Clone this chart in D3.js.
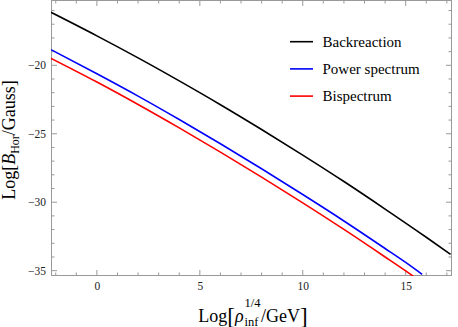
<!DOCTYPE html>
<html><head><meta charset="utf-8">
<script src="https://cdn.jsdelivr.net/npm/d3@7"></script>
<style>body{margin:0;background:#fff}svg{display:block}</style>
</head><body>
<svg id="c" width="458" height="327"></svg>
<script>
const seriesNames = ["Backreaction", "Power spectrum", "Bispectrum"];
const seriesColors = ["#000000", "#0000ff", "#ff0000"];
const backX = [-2.23, 0, 2, 4, 6, 8, 10, 12, 14, 16, 17.18];
const backY = [-16.13, -17.85, -19.46, -21.14, -22.88, -24.69, -26.56, -28.49, -30.50, -32.56, -33.81];
const powX = [-2.23, 0, 2, 4, 6, 8, 10, 12, 14, 15, 15.8];
const powY = [-18.86, -20.62, -22.25, -23.96, -25.73, -27.56, -29.44, -31.37, -33.38, -34.40, -35.27];
const bisX = [-2.23, 0, 2, 4, 6, 8, 10, 12, 14, 15, 15.6];
const bisY = [-19.49, -21.22, -22.86, -24.57, -26.34, -28.17, -30.05, -31.99, -34.0, -35.02, -35.65];
const xTicks = [0, 5, 10, 15];
const yTicks = [-20, -25, -30, -35];

const svg = d3.select("#c");
const L = 51, R = 452, T = 0, B = 276;
const x = d3.scaleLinear().domain([-2.23, 17.25]).range([L, R]);
const y = d3.scaleLinear().domain([-35.39, -15.23]).range([B, T]);
const frameCol = "#999999";
const fmt = d => (d < 0 ? "\u2212" + Math.abs(d) : "" + d);
const serif = "Liberation Serif, serif";

svg.append("defs").append("clipPath").attr("id", "clip")
  .append("rect").attr("x", L).attr("y", T).attr("width", R - L).attr("height", B - T);

// ticks (mirrored on all four sides)
const xMinor = d3.range(-2, 18, 1);
const yMinor = d3.range(-35, -15, 1);
const g = svg.append("g").attr("stroke", frameCol).attr("stroke-width", 1);
xMinor.forEach(v => {
  const len = xTicks.includes(v) ? 6 : 3.5;
  g.append("line").attr("x1", x(v)).attr("x2", x(v)).attr("y1", B).attr("y2", B - len);
  g.append("line").attr("x1", x(v)).attr("x2", x(v)).attr("y1", T).attr("y2", T + len);
});
yMinor.forEach(v => {
  const len = yTicks.includes(v) ? 6 : 3.5;
  g.append("line").attr("y1", y(v)).attr("y2", y(v)).attr("x1", L).attr("x2", L + len);
  g.append("line").attr("y1", y(v)).attr("y2", y(v)).attr("x1", R).attr("x2", R - len);
});
svg.append("rect").attr("x", L + 0.5).attr("y", T + 0.5).attr("width", R - L - 1).attr("height", B - T - 1)
  .attr("fill", "none").attr("stroke", frameCol).attr("stroke-width", 1);

// tick labels via axes
const xAxis = svg.append("g").attr("transform", `translate(0,${B})`)
  .call(d3.axisBottom(x).tickValues(xTicks).tickFormat(fmt).tickSize(0).tickPadding(6));
const yAxis = svg.append("g").attr("transform", `translate(${L},0)`)
  .call(d3.axisLeft(y).tickValues(yTicks).tickFormat(fmt).tickSize(0).tickPadding(5));
[xAxis, yAxis].forEach(a => {
  a.select(".domain").remove();
  a.selectAll("text").attr("font-family", serif).attr("font-size", 11.5).attr("fill", "#222");
});

// curves
const line = d3.line().x(d => x(d[0])).y(d => y(d[1])).curve(d3.curveMonotoneX);
const data = [d3.zip(backX, backY), d3.zip(powX, powY), d3.zip(bisX, bisY)];
svg.append("g").attr("clip-path", "url(#clip)").selectAll("path").data(data).join("path")
  .attr("d", line).attr("fill", "none")
  .attr("stroke", (d, i) => seriesColors[i]).attr("stroke-width", 1.6);

// legend
const lg = svg.append("g");
seriesNames.forEach((n, i) => {
  const yy = 41.7 + i * 27.2;
  lg.append("line").attr("x1", 290).attr("x2", 313).attr("y1", yy).attr("y2", yy)
    .attr("stroke", seriesColors[i]).attr("stroke-width", 1.6);
  lg.append("text").attr("x", 322.5).attr("y", yy + 5).text(n)
    .attr("font-family", serif).attr("font-size", 15).attr("fill", "#000");
});

// y label
const yl = svg.append("text").attr("transform", "translate(15,140) rotate(-90)")
  .attr("text-anchor", "middle").attr("font-family", serif).attr("font-size", 18).attr("fill", "#000");
yl.append("tspan").text("Log[");
yl.append("tspan").text("B").attr("font-style", "italic");
yl.append("tspan").text("Hor").attr("font-size", 12).attr("dy", 4);
yl.append("tspan").text("/Gauss]").attr("dy", -4);

// x label: pieces placed side by side
const base = 322;
const xg = svg.append("g").attr("font-family", serif).attr("fill", "#000");
const t1 = xg.append("text").attr("y", base).attr("font-size", 18);
t1.append("tspan").text("Log");
t1.append("tspan").text("[").attr("font-size", 23).attr("dy", 1.5);
t1.append("tspan").text("\u03C1").attr("font-style", "italic").attr("dy", -1.5);
const w1 = t1.node().getComputedTextLength();
const tSup = xg.append("text").attr("x", w1 + 1).attr("y", base - 15).attr("font-size", 12.5).text("1/4");
const tSub = xg.append("text").attr("x", w1 + 1).attr("y", base + 3.5).attr("font-size", 12.5).text("inf");
const w2 = Math.max(tSup.node().getComputedTextLength(), tSub.node().getComputedTextLength());
const t3 = xg.append("text").attr("x", w1 + w2 + 1.5).attr("y", base).attr("font-size", 18);
t3.append("tspan").text("/GeV");
t3.append("tspan").text("]").attr("font-size", 23).attr("dy", 1.5);
const total = w1 + w2 + 1.5 + t3.node().getComputedTextLength();
xg.attr("transform", `translate(${253 - total / 2},0)`);
</script>
</body></html>
